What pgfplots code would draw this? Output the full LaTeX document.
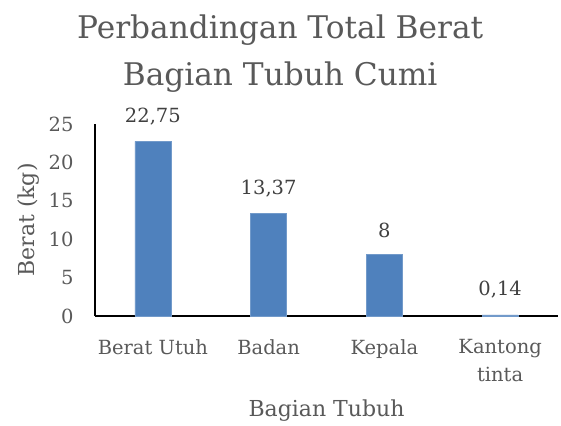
\documentclass[border=0pt]{standalone}
\usepackage{fontspec}
\setmainfont{DejaVu Serif}
\usepackage{pgfplots}
\pgfplotsset{compat=1.18}
\definecolor{txt}{HTML}{595959}
\definecolor{lbl}{HTML}{404040}
\definecolor{bar}{HTML}{4F81BD}
\begin{document}
\begin{tikzpicture}
\useasboundingbox (-95pt,-109pt) rectangle (466pt,316pt);
\begin{axis}[
  at={(0,0)}, anchor=south west,
  scale only axis, width=463pt, height=192pt,
  xmin=-0.5, xmax=3.5, ymin=0, ymax=25,
  axis x line*=bottom, axis y line*=left,
  axis line style={black, line width=1.2pt},
  xtick={0,1,2,3},
  xticklabels={Berat Utuh,Badan,Kepala,Kantong\\tinta},
  xticklabel style={align=center, font=\fontsize{19.5}{28}\selectfont, text=txt, yshift=-20pt},
  ytick={0,5,10,15,20,25},
  yticklabel style={font=\fontsize{19.5}{22}\selectfont, text=txt, xshift=-18pt},
  /pgf/number format/assume math mode=true,
  major tick length=0pt,
  xlabel={Bagian Tubuh},
  ylabel={Berat (kg)},
  xlabel style={font=\fontsize{22}{26}\selectfont, text=txt, yshift=-11pt},
  ylabel style={font=\fontsize{22}{26}\selectfont, text=txt, yshift=2pt},
  title={Perbandingan Total Berat\\Bagian Tubuh Cumi},
  title style={at={(axis description cs:0.4,1)}, anchor=south, align=center,
    font=\fontsize{31.2}{47}\selectfont, text=txt, yshift=22pt},
  nodes near coords,
  nodes near coords style={font=\fontsize{19.5}{22}\selectfont, text=lbl, /pgf/number format/use comma, /pgf/number format/assume math mode=true, yshift=13pt},
  clip=false,
]
\addplot[ybar, bar width=36pt, fill=bar, draw=bar!80!white] coordinates {(0,22.75) (1,13.37) (2,8) (3,0.14)};
\end{axis}
\end{tikzpicture}
\end{document}
